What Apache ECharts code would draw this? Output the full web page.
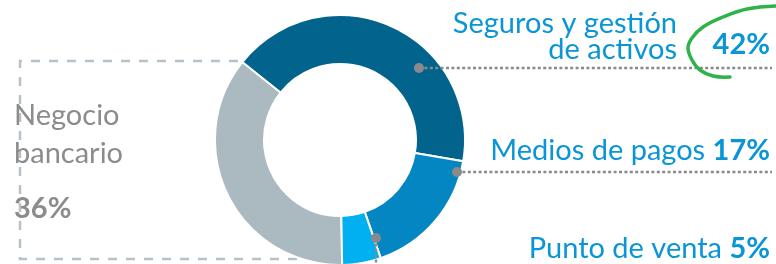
<!DOCTYPE html>
<html>
<head>
<meta charset="utf-8">
<script src="https://cdn.jsdelivr.net/npm/echarts@6/dist/echarts.min.js"></script>
<style>
  html, body { margin: 0; padding: 0; background: #fff; }
  #chart { width: 776px; height: 264px; }
</style>
</head>
<body>
<div id="chart"></div>
<script>
// segments, clockwise from 6 o'clock
const segmentNames = ["Negocio bancario", "Seguros y gestión de activos", "Medios de pagos", "Punto de venta"];
const segmentValues = [36, 42, 17, 5];
const segmentColors = ["#abb9c1", "#02648d", "#0386c2", "#01b0f0"];

const blue = "#0a95d6";
const grey = "#8c8c8c";
const fs = 29;
const font = fs + "px Lato";
const boldFont = "bold " + fs + "px Lato";

function pct(i) {
  return segmentValues[i] + "%";
}

function label(text, x, y, color, f, align, rich) {
  return { type: "text", z: 10, x: x, y: y,
    style: { text: text, fill: color, font: f, align: align, verticalAlign: "middle", rich: rich } };
}

let chart = echarts.init(document.getElementById("chart"));
let dots = "#8a8a8a";
let dotted = { stroke: dots, lineWidth: 2.4, lineDash: [3, 2.4] };
let richB = { b: { fill: blue, font: boldFont } };

let graphics = [
  // dashed bracket round "Negocio bancario"
  { type: "polyline", z: 0, shape: { points: [[238, 61], [20, 61], [20, 259], [320, 259]] },
    style: { stroke: "#b5c2ca", lineWidth: 2.5, lineDash: [9, 9], fill: null } },
  // dotted leader lines
  { type: "line", z: 10, shape: { x1: 419, y1: 68, x2: 772, y2: 68 }, style: dotted },
  { type: "line", z: 10, shape: { x1: 457, y1: 172, x2: 772, y2: 172 }, style: dotted },
  { type: "line", z: 10, shape: { x1: 376, y1: 238, x2: 376, y2: 264 }, style: dotted },
  { type: "circle", z: 11, shape: { cx: 419, cy: 68, r: 5 }, style: { fill: dots } },
  { type: "circle", z: 11, shape: { cx: 457, cy: 172, r: 5 }, style: { fill: dots } },
  { type: "circle", z: 11, shape: { cx: 376, cy: 238, r: 5 }, style: { fill: dots } },
  // green hand drawn mark round 42%
  { type: "polyline", z: 10,
    shape: { smooth: 0.4, points: [[777, 6], [747, 9], [723, 17], [703, 27], [692, 38], [688, 48], [692, 60], [700, 70], [713, 76], [730, 77]] },
    style: { stroke: "#2eb34b", lineWidth: 3.5, fill: null, lineCap: "round" } },
  // labels
  label("Seguros y gestión", 677, 24, blue, font, "right"),
  label("de activos", 677, 50, blue, font, "right"),
  label(pct(1), 770, 45, blue, boldFont, "right"),
  label(segmentNames[2] + " {b|" + pct(2) + "}", 770, 151, blue, font, "right", richB),
  label(segmentNames[3] + " {b|" + pct(3) + "}", 770, 249, blue, font, "right", richB),
  label("Negocio", 14, 116, grey, font, "left"),
  label("bancario", 14, 154, grey, font, "left"),
  label(pct(0), 14, 209, grey, boldFont, "left")
];

let option = {
  animation: false,
  graphic: graphics,
  series: [
    {
      type: "pie",
      z: 5,
      center: [340, 140],
      radius: [76, 125],
      startAngle: -89,
      clockwise: true,
      label: { show: false },
      labelLine: { show: false },
      itemStyle: { borderColor: "#fff", borderWidth: 2 },
      data: segmentNames.map(function(name, i) {
        return { name: name, value: segmentValues[i], itemStyle: { color: segmentColors[i] } };
      })
    }
  ]
};
chart.setOption(option);
</script>
</body>
</html>
